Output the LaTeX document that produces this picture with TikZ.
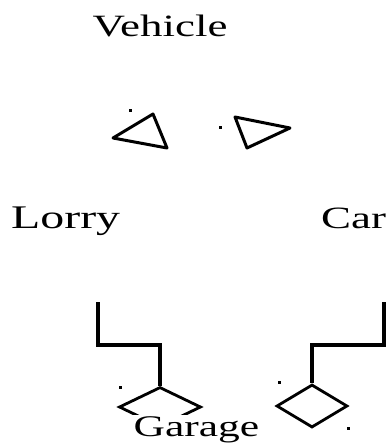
\documentclass[tikz,border=0pt]{standalone}
\usepackage{fontspec}
\usepackage{tikz}
\usetikzlibrary{positioning,shapes.geometric}
\newfontfamily\umlfont[FakeStretch=1.45]{Liberation Serif}

\begin{document}
\begin{tikzpicture}[
  x=1pt,y=-1pt,
  label/.style={font=\umlfont\fontsize{31}{34}\selectfont,inner sep=0pt},
  biglabel/.style={font=\umlfont\fontsize{33}{38}\selectfont,inner sep=0pt},
  tri/.style={draw=black,line width=3pt,line join=round},
  agg/.style={draw=black,diamond,line width=2.8pt,inner sep=0pt},
  link/.style={draw=black,line width=4pt}
]
\useasboundingbox (0,0) rectangle (388,443);
\node[label,anchor=base] (vehicle) at (160,37) {Vehicle};
\node[biglabel,anchor=base west] (lorry) at (11,228) {Lorry};
\node[label,anchor=base west] (car) at (321,228) {Car};
\draw[tri] (113,138) -- (153,114) -- (167,148) -- cycle;
\draw[tri] (235,117) -- (290,128) -- (247,148) -- cycle;
\node[agg,minimum width=82pt,minimum height=40pt] (aggL) at (160,407) {};
\node[agg,minimum width=71pt,minimum height=43pt] (aggR) at (312,406) {};
\coordinate (lorryEnd) at (98,302);
\coordinate (bendL) at (160,345);
\coordinate (carEnd) at (384,302);
\coordinate (bendR) at (312,345);
\draw[link] (lorryEnd) |- (bendL) -- (aggL.north);
\draw[link] (carEnd) |- (bendR) -- (aggR.north);
\node[label,anchor=base west,fill=white,inner sep=1.5pt,font=\umlfont\fontsize{30}{34}\selectfont] (garage) at (132,436) {Garage};
\foreach \x/\y in {130/111,220/128,120/387,279/382,348/428}
  \fill (\x-1.5,\y-1.5) rectangle ++(3,3);
\end{tikzpicture}
\end{document}
